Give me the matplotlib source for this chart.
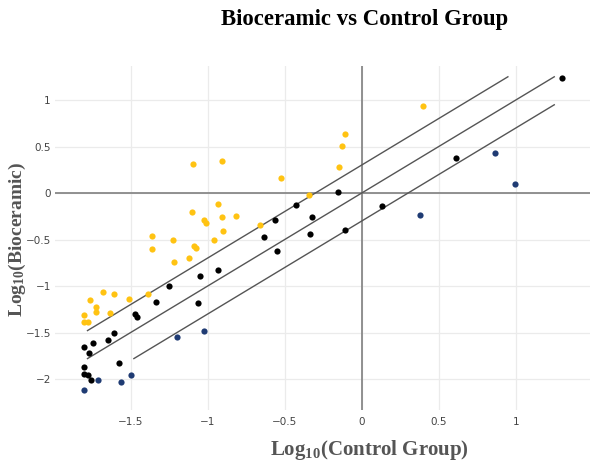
import numpy as np
import matplotlib
matplotlib.use("Agg")
import matplotlib.pyplot as plt

plt.rcParams['mathtext.default'] = 'regular'

# log10 values
yellow_x = [0.398, -0.108, -0.128, -0.147, -0.524, -0.342, -1.094, -0.906, -0.932, -1.102,
            -1.024, -1.011, -0.906, -0.816, -0.660, -0.901, -1.362, -1.225, -0.959, -1.362,
            -1.089, -1.076, -1.122, -1.219, -1.680, -1.608, -1.764, -1.511, -1.388, -1.725,
            -1.725, -1.634, -1.803, -1.803, -1.777]
yellow_y = [0.935, 0.634, 0.505, 0.280, 0.161, -0.022, 0.312, 0.344, -0.118, -0.204,
            -0.290, -0.323, -0.258, -0.247, -0.344, -0.409, -0.462, -0.505, -0.505, -0.602,
            -0.570, -0.591, -0.699, -0.742, -1.065, -1.086, -1.151, -1.140, -1.086, -1.226,
            -1.280, -1.290, -1.312, -1.387, -1.387]

black_x = [1.300, 0.612, -0.154, -0.427, -0.323, -0.336, -0.108, 0.131, -0.563, -0.634,
           -0.550, -0.933, -1.050, -1.251, -1.336, -1.063, -1.472, -1.459, -1.608, -1.647,
           -1.745, -1.803, -1.771, -1.576, -1.803, -1.803, -1.777, -1.758]
black_y = [1.237, 0.376, 0.011, -0.129, -0.258, -0.441, -0.398, -0.140, -0.290, -0.473,
           -0.624, -0.828, -0.892, -1.000, -1.172, -1.183, -1.301, -1.333, -1.505, -1.581,
           -1.613, -1.656, -1.720, -1.828, -1.871, -1.946, -1.957, -2.011]

blue_x = [-1.803, -1.712, -1.563, -1.498, -1.199, -1.024, 0.378, 0.866, 0.996]
blue_y = [-2.118, -2.011, -2.032, -1.957, -1.548, -1.484, -0.237, 0.430, 0.097]

# fold-change guide lines (y = x + offset), clipped to a box
offsets = [np.log10(2), 0.0, -np.log10(2)]
lo, hi = -1.78, 1.25

fig = plt.figure(figsize=(5.9, 4.69), dpi=100)
ax = fig.add_axes([55/590, 1 - 410/469, 535/590, 344/469])

ax.set_xlim(-1.991, 1.482)
ax.set_ylim(-2.333, 1.366)

ax.set_xticks([-1.5, -1, -0.5, 0, 0.5, 1])
ax.set_xticklabels(['\u22121.5', '\u22121', '\u22120.5', '0', '0.5', '1'])
ax.set_yticks([-2, -1.5, -1, -0.5, 0, 0.5, 1])
ax.set_yticklabels(['\u22122', '\u22121.5', '\u22121', '\u22120.5', '0', '0.5', '1'])
ax.grid(True, color='#ebebeb', lw=0.9)
ax.set_axisbelow(True)
ax.tick_params(length=0, labelsize=7.5, labelcolor='#444444')
ax.tick_params(axis='y', pad=3)
ax.tick_params(axis='x', pad=5)
for s in ax.spines.values():
    s.set_visible(False)
ax.axhline(0, color='#888888', lw=1.3, zorder=1)
ax.axvline(0, color='#888888', lw=1.3, zorder=1)

for off in offsets:
    x0 = max(lo, lo - off)
    x1 = min(hi, hi - off)
    xs = np.array([x0, x1])
    ax.plot(xs, xs + off, color='#555555', lw=1.0, zorder=2)

ax.scatter(yellow_x, yellow_y, s=20, color='#ffc312', linewidths=0, zorder=3)
ax.scatter(black_x, black_y, s=20, color='#000000', linewidths=0, zorder=3)
ax.scatter(blue_x, blue_y, s=20, color='#1f3b73', linewidths=0, zorder=3)

fig.text(365/590, 1 - 20/469, 'Bioceramic vs Control Group', ha='center', va='center',
         family='Liberation Serif', weight='bold', fontsize=16.4)
fig.text(369/590, 1 - 450/469, r'Log$_{10}$(Control Group)', ha='center', va='center',
         family='Liberation Serif', weight='bold', fontsize=15, color='#555555')
fig.text(17/590, 1 - 239/469, r'Log$_{10}$(Bioceramic)', ha='center', va='center', rotation=90,
         family='Liberation Serif', weight='bold', fontsize=14, color='#555555')

fig.savefig('out.png', dpi=100)
